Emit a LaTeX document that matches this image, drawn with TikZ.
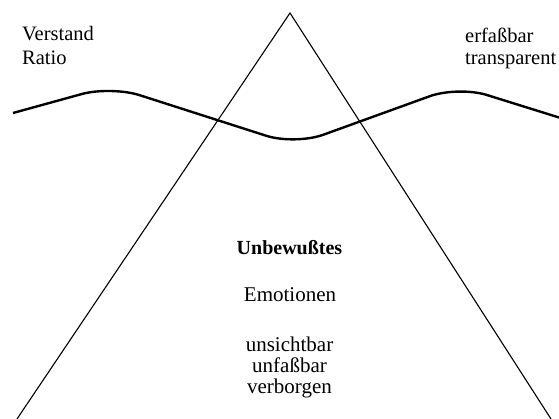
\documentclass[tikz,border=0pt]{standalone}
\usepackage{fontspec}
\setmainfont{Liberation Serif}
\begin{document}
\begin{tikzpicture}[x=1pt,y=1pt,
  lbl/.style={inner sep=0pt,font=\fontsize{20.5}{22}\selectfont},
  ctr/.style={inner sep=0pt,anchor=base,font=\fontsize{21}{22}\selectfont},
  tri/.style={line width=1.1pt,line join=miter},
  wave/.style={line width=2.4pt,rounded corners=30pt}]
\useasboundingbox (0,0) rectangle (559,419);
% triangle
\coordinate (apex) at (290,406);
\coordinate (bl) at (17,0);
\coordinate (br) at (551,0);
\draw[tri] (bl) -- (apex) -- (br);
% wave line
\coordinate (w0) at (13,306);
\coordinate (w1) at (111,333);
\coordinate (w2) at (295,274);
\coordinate (w3) at (458,333);
\coordinate (w4) at (559,301.5);
\draw[wave] (w0) -- (w1) -- (w2) -- (w3) -- (w4);
% texts
\node[lbl,anchor=base west] (verstand) at (22,378) {Verstand};
\node[lbl,anchor=base west] (ratio) at (22,354) {Ratio};
\node[lbl,anchor=base west] (erfassbar) at (465,376) {erfaßbar};
\node[lbl,anchor=base west] (transparent) at (465,354) {transparent};
\node[ctr,font=\fontsize{20}{22}\selectfont\bfseries] (unbewusstes) at (289.5,164) {Unbewußtes};
\node[ctr] (emotionen) at (290,117) {Emotionen};
\node[ctr] (unsichtbar) at (289.5,67) {unsichtbar};
\node[ctr] (unfassbar) at (289.5,46) {unfaßbar};
\node[ctr] (verborgen) at (289.5,25) {verborgen};
\end{tikzpicture}
\end{document}
